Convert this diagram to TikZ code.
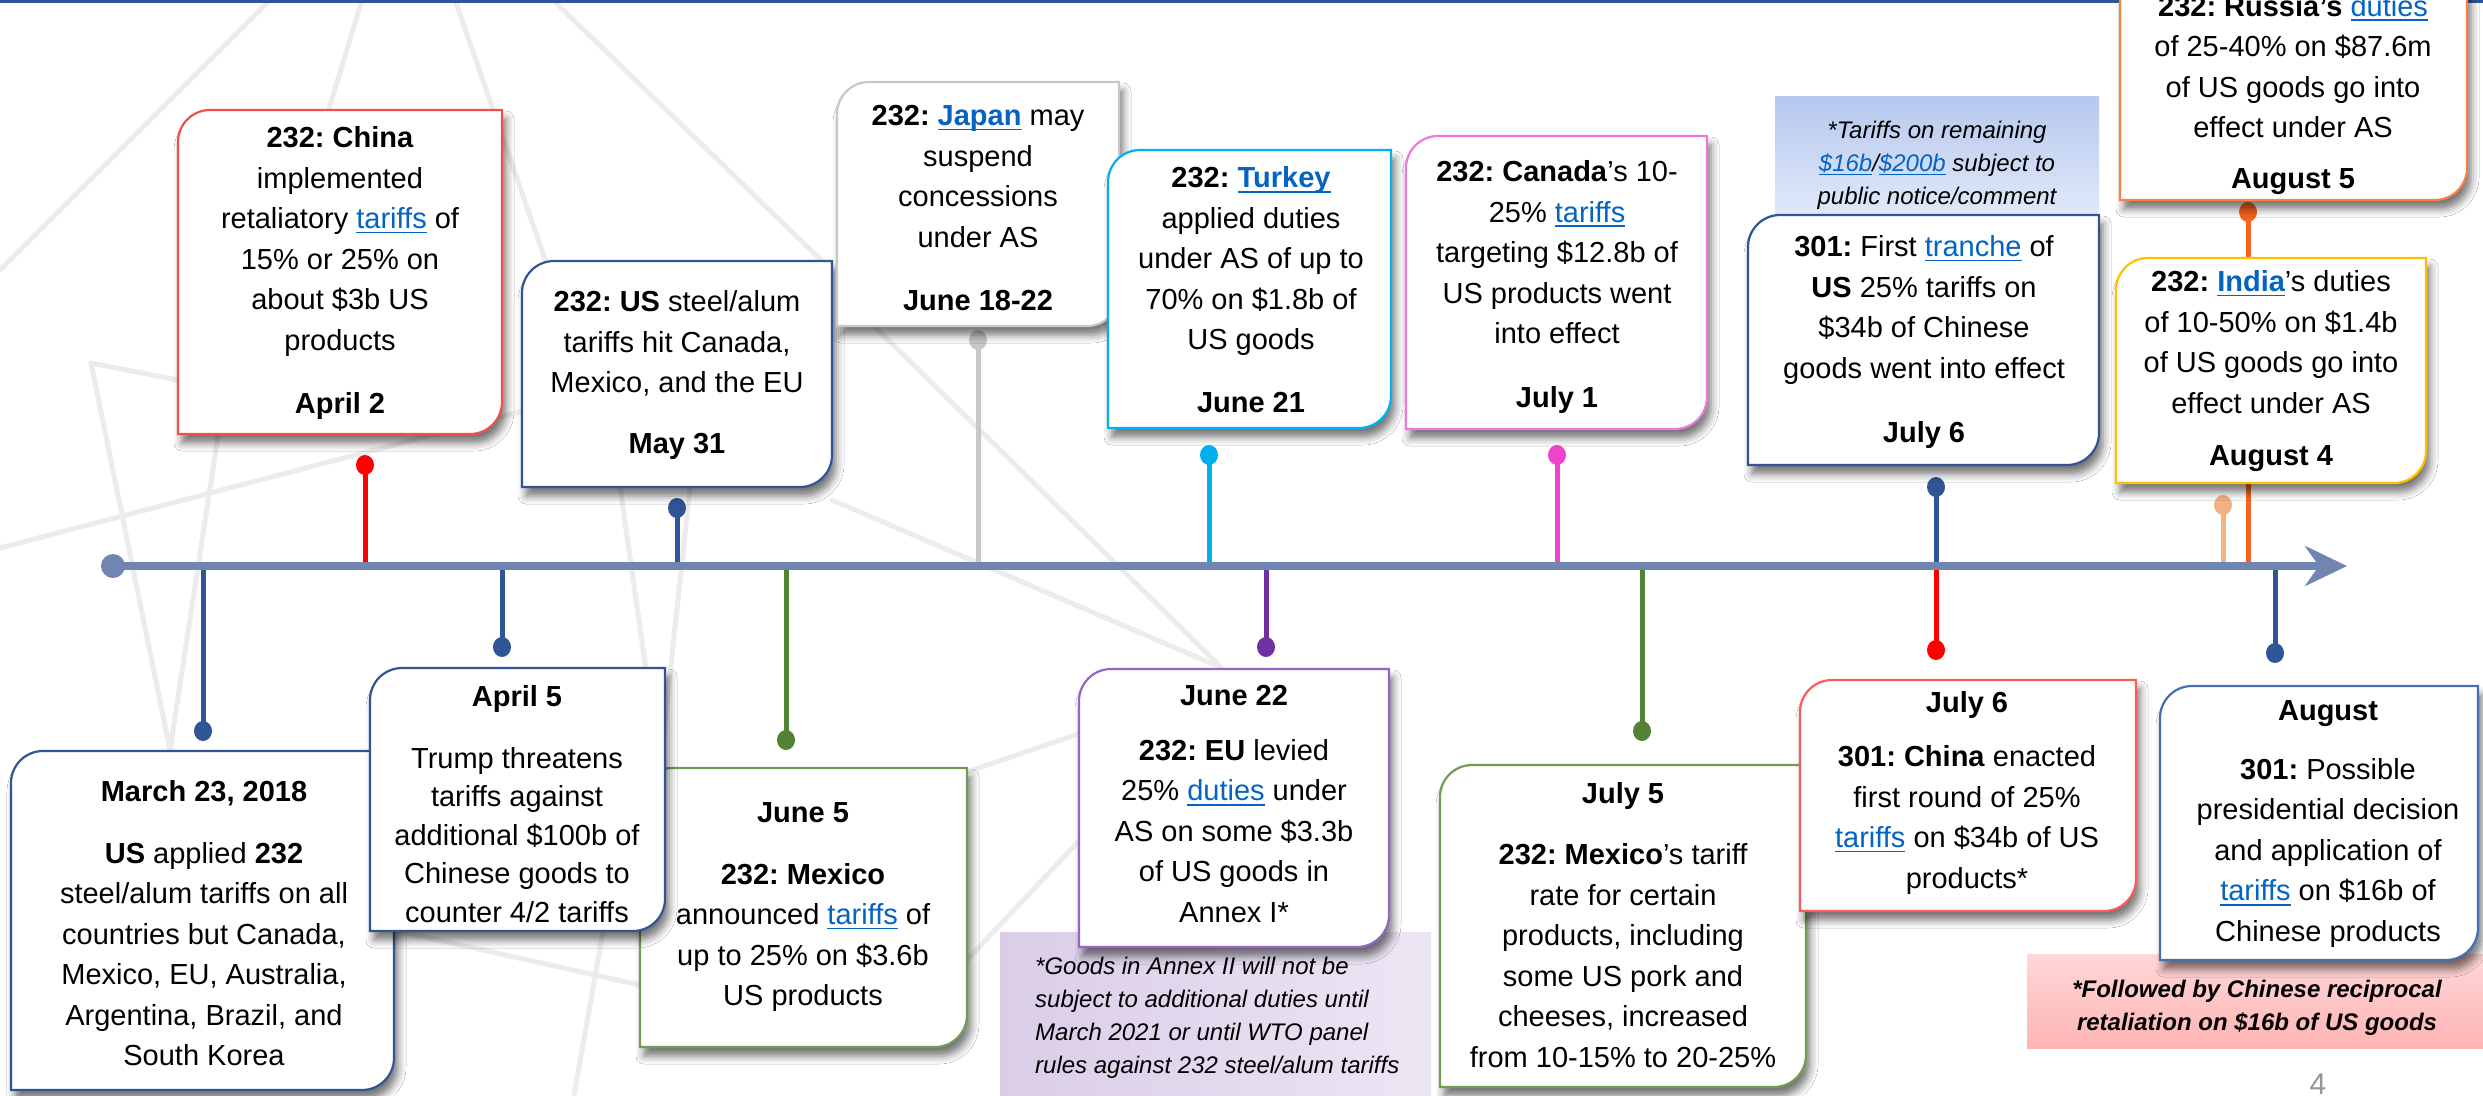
\documentclass[tikz,border=0pt]{standalone}
\usepackage{fontspec}
\setmainfont{Liberation Sans}
\usetikzlibrary{arrows.meta,shapes.geometric,shadows.blur}
\frenchspacing
\definecolor{dblue}{RGB}{47,85,151}
\definecolor{axisc}{RGB}{112,134,176}
\definecolor{lnk}{RGB}{5,99,193}
\definecolor{redc}{RGB}{255,0,0}
\definecolor{grayc}{RGB}{200,200,200}
\definecolor{cyanc}{RGB}{0,176,240}
\definecolor{magc}{RGB}{238,68,204}
\definecolor{greenc}{RGB}{84,130,53}
\definecolor{purc}{RGB}{112,48,160}
\definecolor{peachc}{RGB}{244,177,131}
\definecolor{orangec}{RGB}{244,100,30}
\definecolor{bglc}{RGB}{236,236,236}
\definecolor{bChina}{RGB}{240,80,80}
\definecolor{bJapan}{RGB}{200,200,200}
\definecolor{bCanada}{RGB}{240,120,220}
\definecolor{bRussia}{RGB}{244,130,70}
\definecolor{bIndia}{RGB}{255,192,0}
\definecolor{bGreen}{RGB}{115,155,85}
\definecolor{bPurple}{RGB}{150,100,200}
\definecolor{bRed}{RGB}{255,90,90}
\definecolor{bAug}{RGB}{70,110,180}
\definecolor{pnoteA}{RGB}{182,200,238}
\definecolor{pnoteB}{RGB}{224,232,249}
\definecolor{vnoteL}{RGB}{218,205,232}
\definecolor{vnoteM}{RGB}{205,188,225}
\definecolor{vnoteR}{RGB}{236,230,244}
\definecolor{rnoteT}{RGB}{255,215,215}
\definecolor{rnoteB}{RGB}{255,180,180}
\definecolor{pagec}{RGB}{150,150,150}
\newcommand{\lk}[1]{{\color{lnk}\setbox0\hbox{#1}\rlap{\vrule width \wd0 height -0.1em depth 0.16em}\box0}}
\newcommand{\evbox}[5]{%
  \path[draw=#5, line width=2.2pt, fill=white,
        blur shadow={shadow xshift=4pt,shadow yshift=-9pt,shadow blur radius=8pt,shadow opacity=55}]
    (#1,#4) -- (#1,{#2+32}) arc[start angle=180,end angle=270,radius=32]
    -- (#3,#2) -- (#3,{#4-32}) arc[start angle=0,end angle=90,radius=32] -- cycle;}
\begin{document}
\begin{tikzpicture}[x=1pt,y=-1pt,
  txt/.style={font=\fontsize{29}{40.5}\selectfont, align=center, inner sep=0pt},
  note/.style={font=\fontsize{24}{33}\selectfont\itshape, inner sep=0pt},
  pinline/.style={line width=5pt},
  pindot/.style={ellipse, inner sep=0pt, minimum width=18pt, minimum height=20pt},
  bgline/.style={line width=5pt, bglc, line cap=round}]
\useasboundingbox (0,0) rectangle (2483,1095);
\fill[white] (0,0) rectangle (2483,1095);
% background pattern
\draw[bgline] (270,0) -- (0,270);
\draw[bgline] (362,0) -- (327,115);
\draw[bgline] (455,0) -- (546,262);
\draw[bgline] (553,0) -- (823,262);
\draw[bgline] (91,363) -- (178,380);
\draw[bgline] (91,363) -- (170,750);
\draw[bgline] (218,436) -- (170,750);
\draw[bgline] (0,548) -- (520,412);
\draw[bgline] (620,487) -- (660,768);
\draw[bgline] (690,487) -- (660,768);
\draw[bgline] (832,500) -- (1222,668);
\draw[bgline] (875,327) -- (1222,668);
\draw[bgline] (1078,734) -- (967,772);
\draw[bgline] (1078,842) -- (967,960);
\draw[bgline] (402,932) -- (640,985);
\draw[bgline] (603,932) -- (574,1095);
% top rule
\draw[dblue, line width=3pt] (0,1.5) -- (2483,1.5);
% pins
\foreach \n/\x/\y/\c in {u1/365/465/redc, u2/677/508/dblue, u3/978/340/grayc,
  u4/1209/455/cyanc, u5/1557/455/magc, u6/1936/487/dblue, u7/2223/505/peachc,
  u8/2248/212/orangec, l1/203/731/dblue, l2/502/647/dblue, l3/786/740/greenc,
  l4/1266/647/purc, l5/1642/731/greenc, l6/1936/650/redc, l7/2275/653/dblue}{
  \node[pindot, fill=\c] (d\n) at (\x,\y) {};
  \coordinate (a\n) at (\x,566);
  \draw[pinline, \c] (a\n) -- (d\n.center);
}
% axis
\node[circle, fill=axisc, minimum size=24pt, inner sep=0pt] (ax0) at (113,566) {};
\coordinate (ax1) at (2347,566);
\draw[axisc, line width=8pt, -{Stealth[length=42pt,width=40pt,inset=14pt]}] (ax0.center) -- (ax1);
% notes
\fill[top color=pnoteA, bottom color=pnoteB] (1775,96) rectangle (2099,214);
\node[note, align=center] (nTar) at (1937,165) {*Tariffs on remaining\\\lk{\$16b}/\lk{\$200b} subject to\\public notice/comment};
\fill[left color=vnoteL, middle color=vnoteM, right color=vnoteR] (1000,932) rectangle (1431,1100);
\node[note, align=left, anchor=west] (nAnx) at (1035,1018) {*Goods in Annex II will not be\\subject to additional duties until\\March 2021 or until WTO panel\\rules against 232 steel/alum tariffs};
\fill[top color=rnoteT, bottom color=rnoteB] (2027,954) rectangle (2490,1048);
\node[note, align=center, font=\fontsize{24}{33}\selectfont\bfseries\itshape] (nFol) at (2257,1008) {*Followed by Chinese reciprocal\\retaliation on \$16b of US goods};
% top boxes
\evbox{2120}{-40}{2467}{200}{bRussia}
\node[txt] (tRus) at (2293,95) {\textbf{232: Russia’s} \lk{duties}\\of 25-40\% on \$87.6m\\of US goods go into\\effect under AS\\[10.5pt]\textbf{August 5}};
\evbox{178}{110}{502}{434}{bChina}
\node[txt] (tChi) at (340,273) {\textbf{232: China}\\implemented\\retaliatory \lk{tariffs} of\\15\% or 25\% on\\about \$3b US\\products\\[22.5pt]\textbf{April 2}};
\evbox{522}{261}{832}{487}{dblue}
\node[txt] (tUS) at (677,375) {\textbf{232: US} steel/alum\\tariffs hit Canada,\\Mexico, and the EU\\[20.5pt]\textbf{May 31}};
\evbox{837}{82}{1119}{326}{bJapan}
\node[txt] (tJap) at (978,208) {\textbf{232: \lk{Japan}} may\\suspend\\concessions\\under AS\\[22.5pt]\textbf{June 18-22}};
\evbox{1108}{150}{1391}{428}{cyanc}
\node[txt] (tTur) at (1251,290) {\textbf{232: \lk{Turkey}}\\applied duties\\under AS of up to\\70\% on \$1.8b of\\US goods\\[22.5pt]\textbf{June 21}};
\evbox{1406}{136}{1707}{429}{bCanada}
\node[txt] (tCan) at (1557,287) {\textbf{232: Canada}’s 10-\\25\% \lk{tariffs}\\targeting \$12.8b of\\US products went\\into effect\\[23.5pt]\textbf{July 1}};
\evbox{1748}{215}{2099}{465}{dblue}
\node[txt] (tFir) at (1924,342) {\textbf{301:} First \lk{tranche} of\\\textbf{US} 25\% tariffs on\\\$34b of Chinese\\goods went into effect\\[23.5pt]\textbf{July 6}};
\evbox{2116}{258}{2426}{483}{bIndia}
\node[txt] (tInd) at (2271,371) {\textbf{232: \lk{India}}’s duties\\of 10-50\% on \$1.4b\\of US goods go into\\effect under AS\\[11.5pt]\textbf{August 4}};
% bottom boxes
\evbox{11}{751}{394}{1090}{dblue}
\node[txt] (tMar) at (204,923) {\textbf{March 23, 2018}\\[21.5pt]\textbf{US} applied \textbf{232}\\steel/alum tariffs on all\\countries but Canada,\\Mexico, EU, Australia,\\Argentina, Brazil, and\\South Korea};
\evbox{640}{768}{967}{1047}{bGreen}
\node[txt] (tJn5) at (803,907) {\textbf{June 5}\\[21.5pt]\textbf{232: Mexico}\\announced \lk{tariffs} of\\up to 25\% on \$3.6b\\US products};
\evbox{370}{668}{665}{931}{dblue}
\node[txt, font=\fontsize{29}{38.5}\selectfont] (tApr) at (517,804) {\textbf{April 5}\\[23.5pt]Trump threatens\\tariffs against\\additional \$100b of\\Chinese goods to\\counter 4/2 tariffs};
\evbox{1079}{669}{1389}{947}{bPurple}
\node[txt] (tJ22) at (1234,804) {\textbf{June 22}\\[14.5pt]\textbf{232: EU} levied\\25\% \lk{duties} under\\AS on some \$3.3b\\of US goods in\\Annex I*};
\evbox{1440}{765}{1806}{1087}{bGreen}
\node[txt] (tJl5) at (1623,925) {\textbf{July 5}\\[20.5pt]\textbf{232: Mexico}’s tariff\\rate for certain\\products, including\\some US pork and\\cheeses, increased\\from 10-15\% to 20-25\%};
\evbox{1800}{680}{2136}{911}{bRed}
\node[txt] (tJl6) at (1967,793) {\textbf{July 6}\\[13.5pt]\textbf{301: China} enacted\\first round of 25\%\\\lk{tariffs} on \$34b of US\\products*};
\evbox{2160}{686}{2478}{960}{bAug}
\node[txt] (tAug) at (2328,824) {\textbf{August}\\[18.5pt]\textbf{301:} Possible\\presidential decision\\and application of\\\lk{tariffs} on \$16b of\\Chinese products};
% page number
\node[inner sep=0pt, anchor=north, font=\fontsize{30}{36}\selectfont, text=pagec] (pg) at (2318,1074) {4};
\end{tikzpicture}
\end{document}
